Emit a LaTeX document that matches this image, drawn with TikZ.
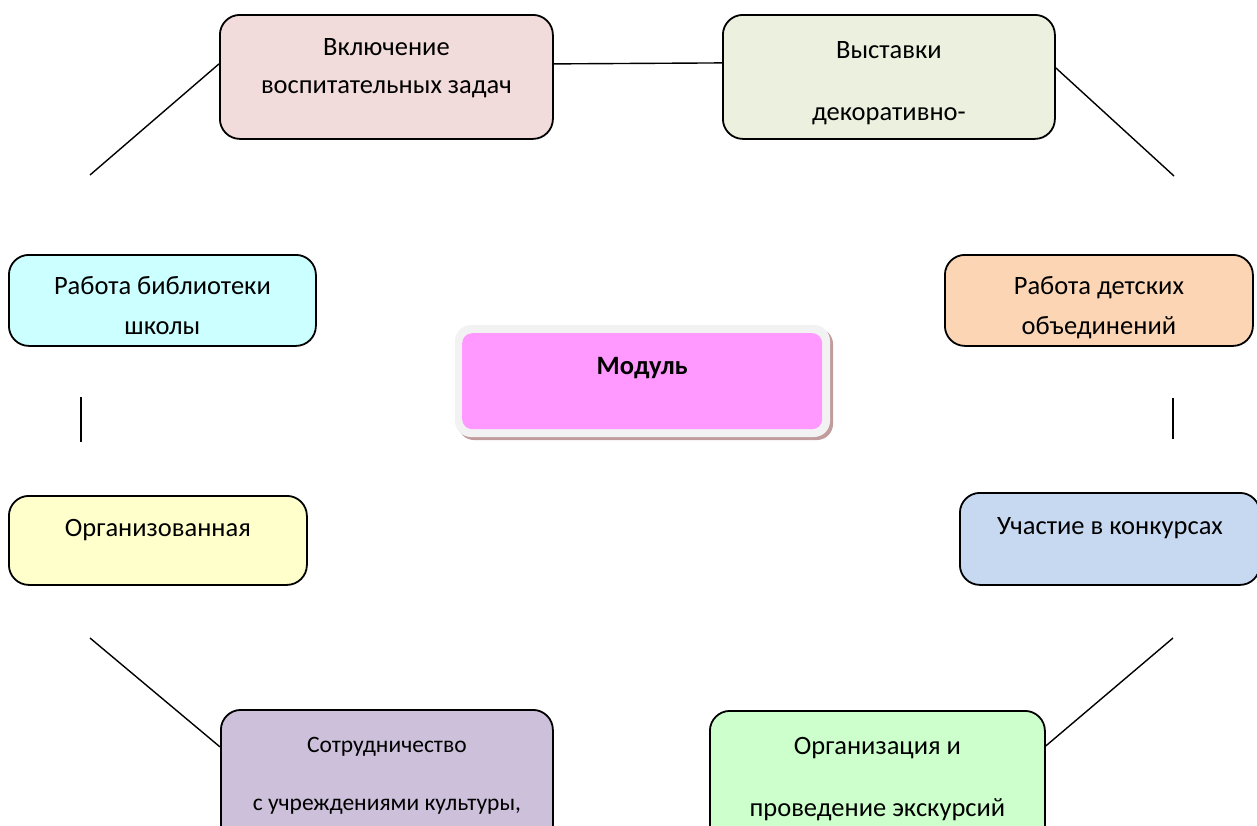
\documentclass[tikz,border=0pt]{standalone}
\usepackage{fontspec}
\setmainfont{Carlito}
\definecolor{pinkA}{HTML}{F2DCDB}
\definecolor{greenA}{HTML}{EBF1DE}
\definecolor{cyanA}{HTML}{CCFFFF}
\definecolor{yellowA}{HTML}{FFFFCC}
\definecolor{lilacA}{HTML}{CCC0DA}
\definecolor{greenB}{HTML}{CCFFCC}
\definecolor{blueA}{HTML}{C6D9F1}
\definecolor{peachA}{HTML}{FCD5B5}
\definecolor{magentaA}{HTML}{FF99FF}
\definecolor{greyA}{HTML}{F2F2F2}
\definecolor{shadowA}{HTML}{C09C9C}
\newcommand\celltext[5]{\parbox[c][#2pt][t]{#1pt}{\centering\baselineskip=#4pt\rule{0pt}{#3pt}#5\par}}
\begin{document}
\begin{tikzpicture}[x=1pt,y=-1pt,
    blok/.style={draw,line width=1.8pt,rounded corners=20pt,inner sep=0pt,anchor=north west,
        font=\fontsize{26.5}{30}\selectfont},
    svyaz/.style={line width=1.4pt}]
    \useasboundingbox (0,0) rectangle (1257,825);
    \node[blok,fill=pinkA] (vkl) at (219,14) {\celltext{333}{124}{41}{38}{Включение\\воспитательных задач}};
    \node[blok,fill=greenA] (vyst) at (722,14) {\celltext{332}{124}{44}{62}{Выставки\\декоративно-}};
    \node[blok,fill=cyanA] (bibl) at (8,254) {\celltext{307}{91}{40}{40}{Работа библиотеки\\школы}};
    \node[blok,fill=yellowA] (org) at (8,495) {\celltext{298}{89}{41}{40}{Организованная}};
    \node[blok,fill=lilacA,font=\fontsize{23.5}{28}\selectfont] (sotr) at (220,709) {\celltext{332}{150}{43}{58}{Сотрудничество\\с учреждениями культуры,}};
    \node[blok,fill=greenB] (ekskurs) at (709,710) {\celltext{335}{150}{44}{62}{Организация и\\проведение экскурсий}};
    \node[blok,fill=blueA] (konk) at (959,492) {\celltext{300}{92}{42}{40}{Участие в конкурсах}};
    \node[blok,fill=peachA] (obed) at (944,254) {\celltext{308}{91}{40}{40}{Работа детских\\объединений}};
    \fill[shadowA,rounded corners=16pt] (458,328) rectangle (833,440);
    \fill[greyA,rounded corners=16pt] (455,325) rectangle (830,437);
    \node[fill=magentaA,rounded corners=10pt,inner sep=0pt,anchor=north west,
        font=\fontsize{26.5}{30}\selectfont\bfseries] (modul) at (462,333) {\celltext{360}{96}{41}{30}{Модуль}};
    \coordinate (lv) at (90,175);
    \coordinate (pv) at (1174,176);
    \coordinate (ln) at (90,638);
    \coordinate (pn) at (1173,638);
    \coordinate (l1) at (81,397);
    \coordinate (l2) at (81,442);
    \coordinate (p1) at (1173,398);
    \coordinate (p2) at (1173,439);
    \draw[svyaz] ([yshift=13pt]vkl.east) -- ([yshift=14pt]vyst.west);
    \draw[svyaz] ([yshift=13pt]vkl.west) -- (lv);
    \draw[svyaz] ([yshift=9pt]vyst.east) -- (pv);
    \draw[svyaz] (l1) -- (l2);
    \draw[svyaz] (p1) -- (p2);
    \draw[svyaz] (ln) -- ([yshift=38pt]sotr.west);
    \draw[svyaz] (pn) -- ([yshift=40pt]ekskurs.east);
\end{tikzpicture}
\end{document}
